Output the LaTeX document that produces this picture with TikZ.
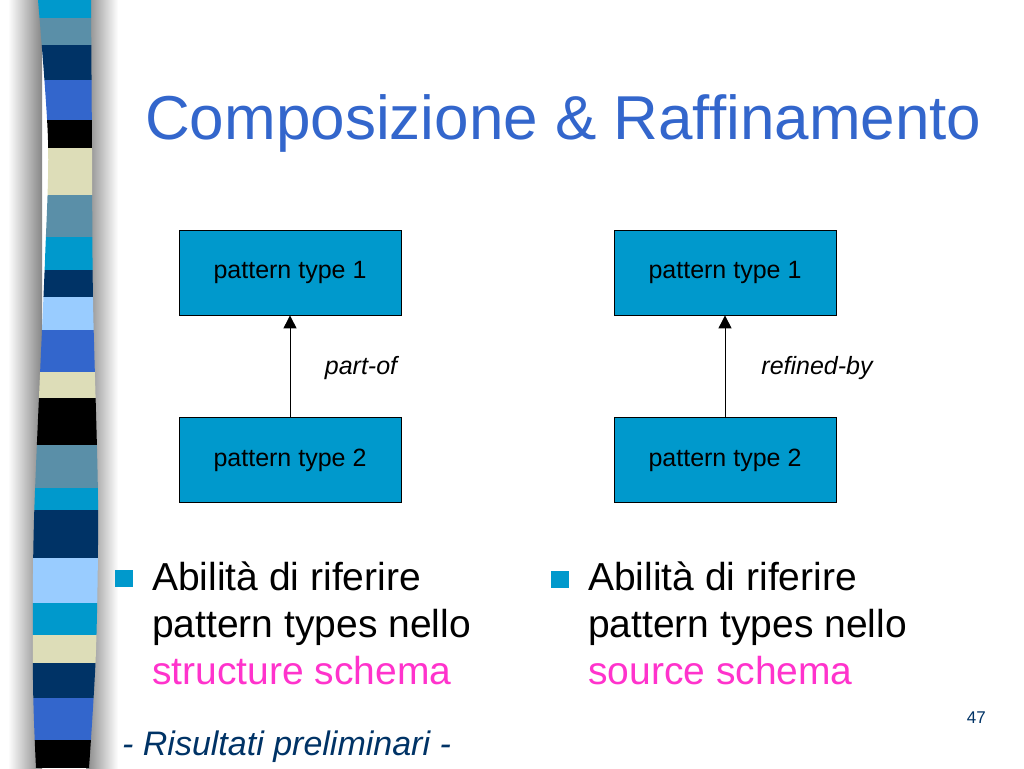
\documentclass[tikz,border=0pt]{standalone}
\usepackage{fontspec}
\setmainfont{Liberation Sans}
\usetikzlibrary{arrows.meta,positioning}

\definecolor{stcyan}{HTML}{0099CC}
\definecolor{ststeel}{HTML}{5A8FA8}
\definecolor{stnavy}{HTML}{003366}
\definecolor{stroyal}{HTML}{3366CC}
\definecolor{stcream}{HTML}{DDDDB8}
\definecolor{stlight}{HTML}{99CCFF}
\definecolor{titleblue}{HTML}{3366CC}
\definecolor{schemapink}{HTML}{FF33CC}

\tikzset{
  ptbox/.style={draw=black, line width=0.8pt, fill=stcyan, minimum width=222pt,
    minimum height=85pt, inner sep=0pt, font=\fontsize{25}{30}\selectfont},
  rellabel/.style={font=\fontsize{25}{30}\itshape},
  relarrow/.style={-{Triangle[width=13pt,length=13pt]}, line width=1pt},
  bulletline/.style={anchor=base west, inner sep=0pt, font=\fontsize{39}{47}\selectfont},
  bulletsq/.style={fill=stcyan, minimum width=18pt, minimum height=17pt, inner sep=0pt}
}

\begin{document}
\begin{tikzpicture}[x=1pt,y=-1pt]
  \useasboundingbox[fill=white] (0,0) rectangle (1024,768);
  % shadow of the strip
  \shade[left color=white, right color=gray!95] (8,0) rectangle (42,768);
  \shade[left color=gray!95, right color=white] (86,0) rectangle (118,768);
  % striped band
  \begin{scope}
    \clip plot[smooth] coordinates {(38,0) (48,140) (45,260) (34,520) (33,680) (36,768)}
      -- plot[smooth] coordinates {(89,768) (96,650) (98,500) (93,300) (92,150) (91,0)} -- cycle;
    \foreach \ya/\yb/\c in {0/18/stcyan, 18/45/ststeel, 45/80/stnavy, 80/120/stroyal,
        120/148/black, 148/195/stcream, 195/237/ststeel, 237/270/stcyan, 270/297/stnavy,
        297/330/stlight, 330/372/stroyal, 372/398/stcream, 398/445/black, 445/488/ststeel,
        488/510/stcyan, 510/558/stnavy, 558/603/stlight, 603/635/stcyan, 635/663/stcream,
        663/698/stnavy, 698/740/stroyal, 740/768/black} {
      \fill[\c] (20,\ya) rectangle (110,\yb);
    }
  \end{scope}

  \node[anchor=base west, inner sep=0pt, text=titleblue, font=\fontsize{62}{70}\selectfont]
    (title) at (145,139) {Composizione \& Raffinamento};

  % part-of
  \node[ptbox] (pa1) at (290,272.5) {pattern type 1};
  \node[ptbox] (pa2) at (290,460) {pattern type 2};
  \draw[relarrow] (pa2) -- (pa1);
  \node[rellabel] (partof) at (361,368) {part-of};

  % refined-by
  \node[ptbox] (rf1) at (725,272.5) {pattern type 1};
  \node[ptbox] (rf2) at (725,460) {pattern type 2};
  \draw[relarrow] (rf2) -- (rf1);
  \node[rellabel] (refby) at (817,368) {refined-by};

  % bullets
  \node[bulletsq] (bl) at (124,578.5) {};
  \node[bulletline] (bla) at (152,590) {Abilità di riferire};
  \node[bulletline] (blb) at (152,637) {pattern types nello};
  \node[bulletline, text=schemapink] (blc) at (152,684) {structure schema};
  \node[bulletsq] (br) at (559.5,579) {};
  \node[bulletline] (bra) at (588,590) {Abilità di riferire};
  \node[bulletline] (brb) at (588,637) {pattern types nello};
  \node[bulletline, text=schemapink] (brc) at (588,684) {source schema};

  \node[anchor=base west, inner sep=0pt, text=stnavy, font=\fontsize{34}{40}\itshape]
    (footer) at (122,755) {- Risultati preliminari -};
  \node[anchor=base east, inner sep=0pt, text=stnavy, font=\fontsize{17}{20}\selectfont]
    (pagenum) at (986,723) {47};
\end{tikzpicture}
\end{document}
